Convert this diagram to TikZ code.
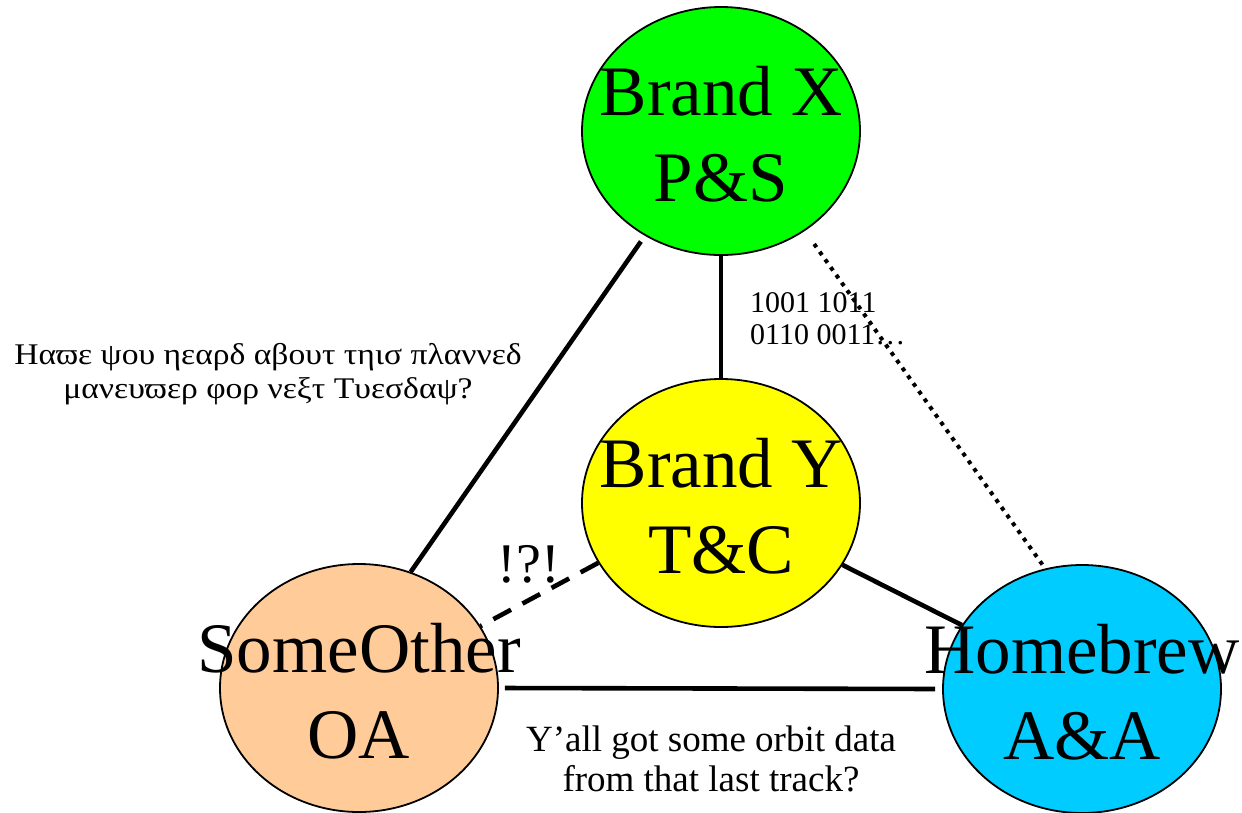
\documentclass[tikz,border=0pt]{standalone}
\usepackage{fontspec}
\setmainfont{Liberation Serif}
\newfontfamily\greekwide[FakeStretch=1.12]{Liberation Serif}
\usetikzlibrary{shapes.geometric}
\definecolor{bxgreen}{RGB}{0,255,0}
\definecolor{byyellow}{RGB}{255,255,0}
\definecolor{sopeach}{RGB}{255,204,153}
\definecolor{hbcyan}{RGB}{0,204,255}
\begin{document}
\begin{tikzpicture}[x=1pt,y=-1pt,
  bubble/.style={ellipse, draw=black, line width=1.8pt, minimum width=278pt, minimum height=248pt, inner sep=0pt},
  big/.style={font=\fontsize{71}{86}\selectfont, align=center, inner sep=0pt},
  conn/.style={line width=4.6pt},
  dotline/.style={line width=4pt, dash pattern=on 4pt off 5.5pt},
  dashline/.style={line width=4.6pt, dash pattern=on 20pt off 13pt},
  note/.style={align=center, inner sep=0pt}]
\useasboundingbox (0,0) rectangle (1242,812);
% bubbles
\node[bubble, fill=bxgreen] (bx) at (721,131) {};
\node[bubble, fill=byyellow] (by) at (721,503) {};
\node[bubble, fill=sopeach] (so) at (359,688) {};
\node[bubble, fill=hbcyan] (hb) at (1082,689) {};
% connectors
\draw[conn, shorten <=7pt] (bx.234) -- (so.66);
\draw[conn] (bx.south) -- (by.north);
\draw[dotline, shorten <=16pt] (bx.310.6) -- (hb.107.3);
\draw[dashline] (by.206) -- (so.27.5);
\draw[conn] (by.333) -- (hb.152);
\draw[conn, shorten <=6pt, shorten >=7pt] (so.east) -- (hb.west);
% bubble labels
\node[big] (bxt) at ([yshift=-3pt]bx.center) {Brand X\\P\&S};
\node[big] (byt) at ([yshift=-3pt]by.center) {Brand Y\\T\&C};
\node[big] (sot) at ([yshift=-3pt]so.center) {SomeOther\\OA};
\node[big] (hbt) at ([yshift=-3pt]hb.center) {Homebrew\\A\&A};
% notes
\node[note, font=\greekwide\fontsize{30}{34}\selectfont] (greek) at (268,374) {Ηαϖε ψου ηεαρδ αβουτ τηισ πλαννεδ\\μανευϖερ φορ νεξτ Τυεσδαψ?};
\node[note, align=left, anchor=west, font=\fontsize{30}{32}\selectfont] (bits) at (750,319) {1001 1011\\0110 0011…};
\node[note, font=\fontsize{56}{60}\selectfont] (huh) at (529,564) {!?!};
\node[note, font=\fontsize{37}{40}\selectfont] (orbit) at (711,759) {Y’all got some orbit data\\from that last track?};
\end{tikzpicture}
\end{document}
